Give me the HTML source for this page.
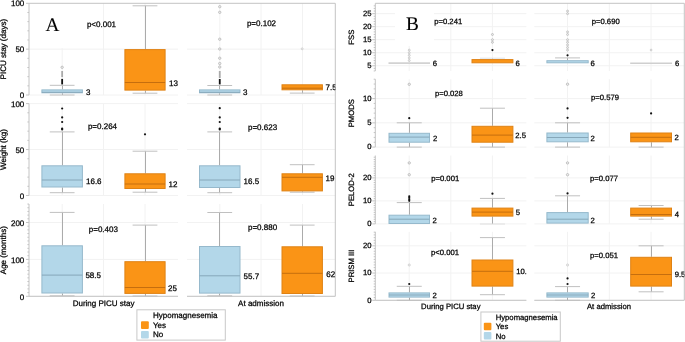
<!DOCTYPE html>
<html><head><meta charset="utf-8"><style>
html,body{margin:0;padding:0;background:#fff;}
svg{display:block;font-family:"Liberation Sans",sans-serif;will-change:transform;text-rendering:geometricPrecision;filter:blur(0.3px);}
text{fill:#000;stroke:#000;stroke-width:0.25px;}
</style></head><body>
<svg width="685" height="342" viewBox="0 0 685 342">
<rect width="685" height="342" fill="#fff"/>
<g id="A">
<line x1="29.00" y1="49.15" x2="178.00" y2="49.15" stroke="#f2f2f2" stroke-width="1"/>
<line x1="187.00" y1="49.15" x2="335.30" y2="49.15" stroke="#f2f2f2" stroke-width="1"/>
<line x1="29.00" y1="95.00" x2="178.00" y2="95.00" stroke="#f2f2f2" stroke-width="1"/>
<line x1="187.00" y1="95.00" x2="335.30" y2="95.00" stroke="#f2f2f2" stroke-width="1"/>
<line x1="62.20" y1="3.30" x2="62.20" y2="95.00" stroke="#f2f2f2" stroke-width="1"/>
<line x1="103.50" y1="3.30" x2="103.50" y2="95.00" stroke="#f2f2f2" stroke-width="1"/>
<line x1="145.00" y1="3.30" x2="145.00" y2="95.00" stroke="#f2f2f2" stroke-width="1"/>
<line x1="219.80" y1="3.30" x2="219.80" y2="95.00" stroke="#f2f2f2" stroke-width="1"/>
<line x1="261.00" y1="3.30" x2="261.00" y2="95.00" stroke="#f2f2f2" stroke-width="1"/>
<line x1="302.50" y1="3.30" x2="302.50" y2="95.00" stroke="#f2f2f2" stroke-width="1"/>
<line x1="29.00" y1="103.60" x2="178.00" y2="103.60" stroke="#f2f2f2" stroke-width="1"/>
<line x1="187.00" y1="103.60" x2="335.30" y2="103.60" stroke="#f2f2f2" stroke-width="1"/>
<line x1="29.00" y1="149.55" x2="178.00" y2="149.55" stroke="#f2f2f2" stroke-width="1"/>
<line x1="187.00" y1="149.55" x2="335.30" y2="149.55" stroke="#f2f2f2" stroke-width="1"/>
<line x1="29.00" y1="195.50" x2="178.00" y2="195.50" stroke="#f2f2f2" stroke-width="1"/>
<line x1="187.00" y1="195.50" x2="335.30" y2="195.50" stroke="#f2f2f2" stroke-width="1"/>
<line x1="62.20" y1="103.60" x2="62.20" y2="195.50" stroke="#f2f2f2" stroke-width="1"/>
<line x1="103.50" y1="103.60" x2="103.50" y2="195.50" stroke="#f2f2f2" stroke-width="1"/>
<line x1="145.00" y1="103.60" x2="145.00" y2="195.50" stroke="#f2f2f2" stroke-width="1"/>
<line x1="219.80" y1="103.60" x2="219.80" y2="195.50" stroke="#f2f2f2" stroke-width="1"/>
<line x1="261.00" y1="103.60" x2="261.00" y2="195.50" stroke="#f2f2f2" stroke-width="1"/>
<line x1="302.50" y1="103.60" x2="302.50" y2="195.50" stroke="#f2f2f2" stroke-width="1"/>
<line x1="29.00" y1="222.50" x2="178.00" y2="222.50" stroke="#f2f2f2" stroke-width="1"/>
<line x1="187.00" y1="222.50" x2="335.30" y2="222.50" stroke="#f2f2f2" stroke-width="1"/>
<line x1="29.00" y1="259.40" x2="178.00" y2="259.40" stroke="#f2f2f2" stroke-width="1"/>
<line x1="187.00" y1="259.40" x2="335.30" y2="259.40" stroke="#f2f2f2" stroke-width="1"/>
<line x1="29.00" y1="296.30" x2="178.00" y2="296.30" stroke="#f2f2f2" stroke-width="1"/>
<line x1="187.00" y1="296.30" x2="335.30" y2="296.30" stroke="#f2f2f2" stroke-width="1"/>
<line x1="62.20" y1="204.00" x2="62.20" y2="296.30" stroke="#f2f2f2" stroke-width="1"/>
<line x1="103.50" y1="204.00" x2="103.50" y2="296.30" stroke="#f2f2f2" stroke-width="1"/>
<line x1="145.00" y1="204.00" x2="145.00" y2="296.30" stroke="#f2f2f2" stroke-width="1"/>
<line x1="219.80" y1="204.00" x2="219.80" y2="296.30" stroke="#f2f2f2" stroke-width="1"/>
<line x1="261.00" y1="204.00" x2="261.00" y2="296.30" stroke="#f2f2f2" stroke-width="1"/>
<line x1="302.50" y1="204.00" x2="302.50" y2="296.30" stroke="#f2f2f2" stroke-width="1"/>
<line x1="29.00" y1="3.30" x2="29.00" y2="95.00" stroke="#c4c4c4" stroke-width="1"/>
<line x1="26.00" y1="95.00" x2="29.00" y2="95.00" stroke="#c4c4c4" stroke-width="1"/>
<line x1="27.40" y1="85.83" x2="29.00" y2="85.83" stroke="#c4c4c4" stroke-width="1"/>
<line x1="27.40" y1="76.66" x2="29.00" y2="76.66" stroke="#c4c4c4" stroke-width="1"/>
<line x1="27.40" y1="67.49" x2="29.00" y2="67.49" stroke="#c4c4c4" stroke-width="1"/>
<line x1="27.40" y1="58.32" x2="29.00" y2="58.32" stroke="#c4c4c4" stroke-width="1"/>
<line x1="26.00" y1="49.15" x2="29.00" y2="49.15" stroke="#c4c4c4" stroke-width="1"/>
<line x1="27.40" y1="39.98" x2="29.00" y2="39.98" stroke="#c4c4c4" stroke-width="1"/>
<line x1="27.40" y1="30.81" x2="29.00" y2="30.81" stroke="#c4c4c4" stroke-width="1"/>
<line x1="27.40" y1="21.64" x2="29.00" y2="21.64" stroke="#c4c4c4" stroke-width="1"/>
<line x1="27.40" y1="12.47" x2="29.00" y2="12.47" stroke="#c4c4c4" stroke-width="1"/>
<line x1="26.00" y1="3.30" x2="29.00" y2="3.30" stroke="#c4c4c4" stroke-width="1"/>
<text x="24.30" y="5.80" font-size="8" text-anchor="end" >100</text>
<text x="24.30" y="52.35" font-size="8" text-anchor="end" >50</text>
<text x="24.30" y="98.20" font-size="8" text-anchor="end" >0</text>
<text x="6.00" y="49.15" font-size="8" text-anchor="middle" transform="rotate(-90 6.0 49.15)">PICU stay (days)</text>
<line x1="29.00" y1="103.60" x2="29.00" y2="195.50" stroke="#c4c4c4" stroke-width="1"/>
<line x1="26.00" y1="195.50" x2="29.00" y2="195.50" stroke="#c4c4c4" stroke-width="1"/>
<line x1="27.40" y1="186.31" x2="29.00" y2="186.31" stroke="#c4c4c4" stroke-width="1"/>
<line x1="27.40" y1="177.12" x2="29.00" y2="177.12" stroke="#c4c4c4" stroke-width="1"/>
<line x1="27.40" y1="167.93" x2="29.00" y2="167.93" stroke="#c4c4c4" stroke-width="1"/>
<line x1="27.40" y1="158.74" x2="29.00" y2="158.74" stroke="#c4c4c4" stroke-width="1"/>
<line x1="26.00" y1="149.55" x2="29.00" y2="149.55" stroke="#c4c4c4" stroke-width="1"/>
<line x1="27.40" y1="140.36" x2="29.00" y2="140.36" stroke="#c4c4c4" stroke-width="1"/>
<line x1="27.40" y1="131.17" x2="29.00" y2="131.17" stroke="#c4c4c4" stroke-width="1"/>
<line x1="27.40" y1="121.98" x2="29.00" y2="121.98" stroke="#c4c4c4" stroke-width="1"/>
<line x1="27.40" y1="112.79" x2="29.00" y2="112.79" stroke="#c4c4c4" stroke-width="1"/>
<line x1="26.00" y1="103.60" x2="29.00" y2="103.60" stroke="#c4c4c4" stroke-width="1"/>
<text x="24.30" y="106.80" font-size="8" text-anchor="end" >100</text>
<text x="24.30" y="152.75" font-size="8" text-anchor="end" >50</text>
<text x="24.30" y="198.70" font-size="8" text-anchor="end" >0</text>
<text x="6.00" y="149.55" font-size="8" text-anchor="middle" transform="rotate(-90 6.0 149.55)">Weight (kg)</text>
<line x1="29.00" y1="204.00" x2="29.00" y2="296.30" stroke="#c4c4c4" stroke-width="1"/>
<line x1="26.00" y1="296.30" x2="29.00" y2="296.30" stroke="#c4c4c4" stroke-width="1"/>
<line x1="27.40" y1="292.61" x2="29.00" y2="292.61" stroke="#c4c4c4" stroke-width="1"/>
<line x1="27.40" y1="288.92" x2="29.00" y2="288.92" stroke="#c4c4c4" stroke-width="1"/>
<line x1="27.40" y1="285.23" x2="29.00" y2="285.23" stroke="#c4c4c4" stroke-width="1"/>
<line x1="27.40" y1="281.54" x2="29.00" y2="281.54" stroke="#c4c4c4" stroke-width="1"/>
<line x1="27.40" y1="277.85" x2="29.00" y2="277.85" stroke="#c4c4c4" stroke-width="1"/>
<line x1="27.40" y1="274.16" x2="29.00" y2="274.16" stroke="#c4c4c4" stroke-width="1"/>
<line x1="27.40" y1="270.47" x2="29.00" y2="270.47" stroke="#c4c4c4" stroke-width="1"/>
<line x1="27.40" y1="266.78" x2="29.00" y2="266.78" stroke="#c4c4c4" stroke-width="1"/>
<line x1="27.40" y1="263.09" x2="29.00" y2="263.09" stroke="#c4c4c4" stroke-width="1"/>
<line x1="26.00" y1="259.40" x2="29.00" y2="259.40" stroke="#c4c4c4" stroke-width="1"/>
<line x1="27.40" y1="255.71" x2="29.00" y2="255.71" stroke="#c4c4c4" stroke-width="1"/>
<line x1="27.40" y1="252.02" x2="29.00" y2="252.02" stroke="#c4c4c4" stroke-width="1"/>
<line x1="27.40" y1="248.33" x2="29.00" y2="248.33" stroke="#c4c4c4" stroke-width="1"/>
<line x1="27.40" y1="244.64" x2="29.00" y2="244.64" stroke="#c4c4c4" stroke-width="1"/>
<line x1="27.40" y1="240.95" x2="29.00" y2="240.95" stroke="#c4c4c4" stroke-width="1"/>
<line x1="27.40" y1="237.26" x2="29.00" y2="237.26" stroke="#c4c4c4" stroke-width="1"/>
<line x1="27.40" y1="233.57" x2="29.00" y2="233.57" stroke="#c4c4c4" stroke-width="1"/>
<line x1="27.40" y1="229.88" x2="29.00" y2="229.88" stroke="#c4c4c4" stroke-width="1"/>
<line x1="27.40" y1="226.19" x2="29.00" y2="226.19" stroke="#c4c4c4" stroke-width="1"/>
<line x1="26.00" y1="222.50" x2="29.00" y2="222.50" stroke="#c4c4c4" stroke-width="1"/>
<line x1="27.40" y1="218.81" x2="29.00" y2="218.81" stroke="#c4c4c4" stroke-width="1"/>
<line x1="27.40" y1="215.12" x2="29.00" y2="215.12" stroke="#c4c4c4" stroke-width="1"/>
<line x1="27.40" y1="211.43" x2="29.00" y2="211.43" stroke="#c4c4c4" stroke-width="1"/>
<line x1="27.40" y1="207.74" x2="29.00" y2="207.74" stroke="#c4c4c4" stroke-width="1"/>
<line x1="27.40" y1="204.05" x2="29.00" y2="204.05" stroke="#c4c4c4" stroke-width="1"/>
<text x="24.30" y="225.70" font-size="8" text-anchor="end" >200</text>
<text x="24.30" y="262.60" font-size="8" text-anchor="end" >100</text>
<text x="24.30" y="299.50" font-size="8" text-anchor="end" >0</text>
<text x="6.00" y="250.15" font-size="8" text-anchor="middle" transform="rotate(-90 6.0 250.15)">Age (months)</text>
<line x1="29.00" y1="3.30" x2="335.30" y2="3.30" stroke="#c4c4c4" stroke-width="1"/>
<line x1="335.30" y1="3.30" x2="335.30" y2="296.30" stroke="#c4c4c4" stroke-width="1"/>
<line x1="29.00" y1="296.30" x2="178.00" y2="296.30" stroke="#c4c4c4" stroke-width="1"/>
<line x1="187.00" y1="296.30" x2="335.30" y2="296.30" stroke="#c4c4c4" stroke-width="1"/>
</g>
<defs><clipPath id="cA1"><rect x="29" y="0" width="149" height="300"/></clipPath><clipPath id="cA2"><rect x="187" y="0" width="148.3" height="300"/></clipPath><clipPath id="cB1"><rect x="375" y="0" width="151.4" height="305"/></clipPath><clipPath id="cB2"><rect x="534" y="0" width="150.3" height="305"/></clipPath></defs>
<line x1="62.50" y1="89.40" x2="62.50" y2="85.30" stroke="#ababab" stroke-width="1"/>
<line x1="49.75" y1="85.30" x2="74.55" y2="85.30" stroke="#c0c0c0" stroke-width="1"/>
<line x1="62.50" y1="93.30" x2="62.50" y2="95.00" stroke="#ababab" stroke-width="1"/>
<line x1="49.75" y1="95.00" x2="74.55" y2="95.00" stroke="#c0c0c0" stroke-width="1"/>
<rect x="61.25" y="78.9" width="1.8" height="5.5" fill="#111"/>
<rect x="61.25" y="71" width="1.8" height="6.1" fill="#aaa"/>
<circle cx="62.15" cy="67.30" r="1.2" fill="#ececec" stroke="#b0b0b0" stroke-width="0.7"/>
<rect x="41.90" y="89.90" width="40.50" height="2.90" fill="#b3d7e9" stroke="#96b9cc" stroke-width="1"/>
<line x1="41.90" y1="92.30" x2="82.40" y2="92.30" stroke="#86a7b9" stroke-width="1"/>
<line x1="145.50" y1="49.10" x2="145.50" y2="5.80" stroke="#ababab" stroke-width="1"/>
<line x1="132.60" y1="5.80" x2="157.40" y2="5.80" stroke="#c0c0c0" stroke-width="1"/>
<line x1="145.50" y1="90.60" x2="145.50" y2="93.20" stroke="#ababab" stroke-width="1"/>
<line x1="132.60" y1="93.20" x2="157.40" y2="93.20" stroke="#c0c0c0" stroke-width="1"/>
<rect x="124.90" y="49.60" width="40.20" height="40.50" fill="#fa9416" stroke="#df8214" stroke-width="1"/>
<line x1="124.90" y1="82.50" x2="165.10" y2="82.50" stroke="#c56e0e" stroke-width="1"/>
<line x1="219.50" y1="89.40" x2="219.50" y2="85.50" stroke="#ababab" stroke-width="1"/>
<line x1="207.35" y1="85.50" x2="232.15" y2="85.50" stroke="#c0c0c0" stroke-width="1"/>
<line x1="219.50" y1="93.30" x2="219.50" y2="95.00" stroke="#ababab" stroke-width="1"/>
<line x1="207.35" y1="95.00" x2="232.15" y2="95.00" stroke="#c0c0c0" stroke-width="1"/>
<rect x="218.85" y="79" width="1.8" height="5.4" fill="#111"/>
<rect x="218.85" y="71" width="1.8" height="7" fill="#aaa"/>
<circle cx="219.75" cy="6.70" r="1.2" fill="#ececec" stroke="#b0b0b0" stroke-width="0.7"/>
<circle cx="219.75" cy="12.30" r="1.2" fill="#ececec" stroke="#b0b0b0" stroke-width="0.7"/>
<circle cx="219.75" cy="39.20" r="1.2" fill="#ececec" stroke="#b0b0b0" stroke-width="0.7"/>
<circle cx="219.75" cy="49.00" r="1.2" fill="#ececec" stroke="#b0b0b0" stroke-width="0.7"/>
<circle cx="219.75" cy="58.20" r="1.2" fill="#ececec" stroke="#b0b0b0" stroke-width="0.7"/>
<circle cx="219.75" cy="63.50" r="1.2" fill="#ececec" stroke="#b0b0b0" stroke-width="0.7"/>
<circle cx="219.75" cy="67.00" r="1.2" fill="#ececec" stroke="#b0b0b0" stroke-width="0.7"/>
<rect x="199.50" y="89.90" width="40.50" height="2.90" fill="#b3d7e9" stroke="#96b9cc" stroke-width="1"/>
<line x1="199.50" y1="92.30" x2="240.00" y2="92.30" stroke="#86a7b9" stroke-width="1"/>
<line x1="302.50" y1="90.30" x2="302.50" y2="93.10" stroke="#ababab" stroke-width="1"/>
<line x1="289.80" y1="93.10" x2="314.60" y2="93.10" stroke="#c0c0c0" stroke-width="1"/>
<circle cx="302.20" cy="48.80" r="1.0" fill="#ececec" stroke="#c8c8c8" stroke-width="0.7"/>
<rect x="282.00" y="84.80" width="40.40" height="5.00" fill="#fa9416" stroke="#df8214" stroke-width="1"/>
<line x1="282.00" y1="88.20" x2="322.40" y2="88.20" stroke="#c56e0e" stroke-width="1"/>
<line x1="62.50" y1="165.30" x2="62.50" y2="131.90" stroke="#ababab" stroke-width="1"/>
<line x1="49.75" y1="131.90" x2="74.55" y2="131.90" stroke="#c0c0c0" stroke-width="1"/>
<line x1="62.50" y1="187.50" x2="62.50" y2="192.70" stroke="#ababab" stroke-width="1"/>
<line x1="49.75" y1="192.70" x2="74.55" y2="192.70" stroke="#c0c0c0" stroke-width="1"/>
<circle cx="62.15" cy="108.50" r="1.1" fill="#111"/>
<circle cx="62.15" cy="117.40" r="1.1" fill="#111"/>
<circle cx="62.15" cy="122.00" r="1.1" fill="#111"/>
<circle cx="62.15" cy="128.60" r="1.1" fill="#111"/>
<circle cx="62.15" cy="129.40" r="1.1" fill="#111"/>
<rect x="41.90" y="165.80" width="40.50" height="21.20" fill="#b3d7e9" stroke="#96b9cc" stroke-width="1"/>
<line x1="41.90" y1="180.00" x2="82.40" y2="180.00" stroke="#86a7b9" stroke-width="1"/>
<line x1="145.50" y1="173.30" x2="145.50" y2="151.20" stroke="#ababab" stroke-width="1"/>
<line x1="132.60" y1="151.20" x2="157.40" y2="151.20" stroke="#c0c0c0" stroke-width="1"/>
<line x1="145.50" y1="189.00" x2="145.50" y2="192.20" stroke="#ababab" stroke-width="1"/>
<line x1="132.60" y1="192.20" x2="157.40" y2="192.20" stroke="#c0c0c0" stroke-width="1"/>
<circle cx="145.00" cy="134.30" r="1.1" fill="#111"/>
<rect x="124.90" y="173.80" width="40.20" height="14.70" fill="#fa9416" stroke="#df8214" stroke-width="1"/>
<line x1="124.90" y1="184.00" x2="165.10" y2="184.00" stroke="#c56e0e" stroke-width="1"/>
<line x1="219.50" y1="165.30" x2="219.50" y2="131.90" stroke="#ababab" stroke-width="1"/>
<line x1="207.35" y1="131.90" x2="232.15" y2="131.90" stroke="#c0c0c0" stroke-width="1"/>
<line x1="219.50" y1="188.00" x2="219.50" y2="192.70" stroke="#ababab" stroke-width="1"/>
<line x1="207.35" y1="192.70" x2="232.15" y2="192.70" stroke="#c0c0c0" stroke-width="1"/>
<circle cx="219.75" cy="108.20" r="1.1" fill="#111"/>
<circle cx="219.75" cy="117.40" r="1.1" fill="#111"/>
<circle cx="219.75" cy="122.00" r="1.1" fill="#111"/>
<circle cx="219.75" cy="128.60" r="1.1" fill="#111"/>
<circle cx="219.75" cy="129.40" r="1.1" fill="#111"/>
<rect x="199.50" y="165.80" width="40.50" height="21.70" fill="#b3d7e9" stroke="#96b9cc" stroke-width="1"/>
<line x1="199.50" y1="180.00" x2="240.00" y2="180.00" stroke="#86a7b9" stroke-width="1"/>
<line x1="302.50" y1="173.30" x2="302.50" y2="164.70" stroke="#ababab" stroke-width="1"/>
<line x1="289.80" y1="164.70" x2="314.60" y2="164.70" stroke="#c0c0c0" stroke-width="1"/>
<line x1="302.50" y1="191.40" x2="302.50" y2="192.20" stroke="#ababab" stroke-width="1"/>
<line x1="289.80" y1="192.20" x2="314.60" y2="192.20" stroke="#c0c0c0" stroke-width="1"/>
<rect x="282.00" y="173.80" width="40.40" height="17.10" fill="#fa9416" stroke="#df8214" stroke-width="1"/>
<line x1="282.00" y1="177.30" x2="322.40" y2="177.30" stroke="#c56e0e" stroke-width="1"/>
<line x1="62.50" y1="245.30" x2="62.50" y2="212.40" stroke="#ababab" stroke-width="1"/>
<line x1="49.75" y1="212.40" x2="74.55" y2="212.40" stroke="#c0c0c0" stroke-width="1"/>
<line x1="62.50" y1="293.50" x2="62.50" y2="295.80" stroke="#ababab" stroke-width="1"/>
<line x1="49.75" y1="295.80" x2="74.55" y2="295.80" stroke="#c0c0c0" stroke-width="1"/>
<rect x="41.90" y="245.80" width="40.50" height="47.20" fill="#b3d7e9" stroke="#96b9cc" stroke-width="1"/>
<line x1="41.90" y1="275.10" x2="82.40" y2="275.10" stroke="#86a7b9" stroke-width="1"/>
<line x1="145.50" y1="261.20" x2="145.50" y2="225.10" stroke="#ababab" stroke-width="1"/>
<line x1="132.60" y1="225.10" x2="157.40" y2="225.10" stroke="#c0c0c0" stroke-width="1"/>
<line x1="145.50" y1="293.90" x2="145.50" y2="296.00" stroke="#ababab" stroke-width="1"/>
<line x1="132.60" y1="296.00" x2="157.40" y2="296.00" stroke="#c0c0c0" stroke-width="1"/>
<rect x="124.90" y="261.70" width="40.20" height="31.70" fill="#fa9416" stroke="#df8214" stroke-width="1"/>
<line x1="124.90" y1="287.50" x2="165.10" y2="287.50" stroke="#c56e0e" stroke-width="1"/>
<line x1="219.50" y1="246.00" x2="219.50" y2="212.50" stroke="#ababab" stroke-width="1"/>
<line x1="207.35" y1="212.50" x2="232.15" y2="212.50" stroke="#c0c0c0" stroke-width="1"/>
<line x1="219.50" y1="293.60" x2="219.50" y2="295.80" stroke="#ababab" stroke-width="1"/>
<line x1="207.35" y1="295.80" x2="232.15" y2="295.80" stroke="#c0c0c0" stroke-width="1"/>
<rect x="199.50" y="246.50" width="40.50" height="46.60" fill="#b3d7e9" stroke="#96b9cc" stroke-width="1"/>
<line x1="199.50" y1="275.80" x2="240.00" y2="275.80" stroke="#86a7b9" stroke-width="1"/>
<line x1="302.50" y1="246.30" x2="302.50" y2="225.10" stroke="#ababab" stroke-width="1"/>
<line x1="289.80" y1="225.10" x2="314.60" y2="225.10" stroke="#c0c0c0" stroke-width="1"/>
<line x1="302.50" y1="294.00" x2="302.50" y2="296.00" stroke="#ababab" stroke-width="1"/>
<line x1="289.80" y1="296.00" x2="314.60" y2="296.00" stroke="#c0c0c0" stroke-width="1"/>
<rect x="282.00" y="246.80" width="40.40" height="46.70" fill="#fa9416" stroke="#df8214" stroke-width="1"/>
<line x1="282.00" y1="273.30" x2="322.40" y2="273.30" stroke="#c56e0e" stroke-width="1"/>
<g clip-path="url(#cA1)">
<text x="85.90" y="94.90" font-size="8" text-anchor="start" >3</text>
<text x="169.00" y="85.90" font-size="8" text-anchor="start" >13</text>
<text x="86.00" y="184.20" font-size="8" text-anchor="start" >16.6</text>
<text x="168.60" y="187.30" font-size="8" text-anchor="start" >12</text>
<text x="85.40" y="278.40" font-size="8" text-anchor="start" >58.5</text>
<text x="168.10" y="290.60" font-size="8" text-anchor="start" >25</text>
</g><g clip-path="url(#cA2)">
<text x="242.90" y="94.90" font-size="8" text-anchor="start" >3</text>
<text x="325.60" y="90.40" font-size="8" text-anchor="start" >7.5</text>
<text x="243.60" y="184.20" font-size="8" text-anchor="start" >16.5</text>
<text x="325.60" y="180.90" font-size="8" text-anchor="start" >19</text>
<text x="243.60" y="279.30" font-size="8" text-anchor="start" >55.7</text>
<text x="326.20" y="276.50" font-size="8" text-anchor="start" >62</text>
</g>
<text x="86.90" y="26.70" font-size="8" text-anchor="start" >p&lt;0.001</text>
<text x="246.90" y="25.80" font-size="8" text-anchor="start" >p=0.102</text>
<text x="87.90" y="129.30" font-size="8" text-anchor="start" >p=0.264</text>
<text x="248.00" y="130.40" font-size="8" text-anchor="start" >p=0.623</text>
<text x="88.80" y="231.70" font-size="8" text-anchor="start" >p=0.403</text>
<text x="248.00" y="230.00" font-size="8" text-anchor="start" >p=0.880</text>
<rect x="34" y="4" width="36" height="44" fill="#fff"/>
<text x="45.60" y="30.90" font-size="19.3" text-anchor="start" font-family="Liberation Serif, serif" style="stroke-width:0.1px">A</text>
<text x="103.60" y="305.80" font-size="8" text-anchor="middle" >During PICU stay</text>
<text x="261.00" y="305.80" font-size="8" text-anchor="middle" >At admission</text>
<rect x="136.9" y="309.8" width="88.4" height="30.3" fill="#fff" stroke="#c8c8c8" stroke-width="1"/>
<text x="153.00" y="318.20" font-size="8" text-anchor="start" >Hypomagnesemia</text>
<rect x="141.0" y="321.3" width="7.8" height="7.6" rx="1" fill="#fa9416"/>
<text x="153.00" y="327.50" font-size="8" text-anchor="start" >Yes</text>
<rect x="141.0" y="331.0" width="7.8" height="7.6" rx="1" fill="#b3d7e9"/>
<text x="153.00" y="336.90" font-size="8" text-anchor="start" >No</text>
<line x1="375.30" y1="13.65" x2="526.40" y2="13.65" stroke="#f2f2f2" stroke-width="1"/>
<line x1="534.30" y1="13.65" x2="684.30" y2="13.65" stroke="#f2f2f2" stroke-width="1"/>
<line x1="375.30" y1="26.67" x2="526.40" y2="26.67" stroke="#f2f2f2" stroke-width="1"/>
<line x1="534.30" y1="26.67" x2="684.30" y2="26.67" stroke="#f2f2f2" stroke-width="1"/>
<line x1="375.30" y1="39.70" x2="526.40" y2="39.70" stroke="#f2f2f2" stroke-width="1"/>
<line x1="534.30" y1="39.70" x2="684.30" y2="39.70" stroke="#f2f2f2" stroke-width="1"/>
<line x1="375.30" y1="52.73" x2="526.40" y2="52.73" stroke="#f2f2f2" stroke-width="1"/>
<line x1="534.30" y1="52.73" x2="684.30" y2="52.73" stroke="#f2f2f2" stroke-width="1"/>
<line x1="375.30" y1="65.75" x2="526.40" y2="65.75" stroke="#f2f2f2" stroke-width="1"/>
<line x1="534.30" y1="65.75" x2="684.30" y2="65.75" stroke="#f2f2f2" stroke-width="1"/>
<line x1="409.20" y1="3.30" x2="409.20" y2="71.00" stroke="#f2f2f2" stroke-width="1"/>
<line x1="450.80" y1="3.30" x2="450.80" y2="71.00" stroke="#f2f2f2" stroke-width="1"/>
<line x1="492.40" y1="3.30" x2="492.40" y2="71.00" stroke="#f2f2f2" stroke-width="1"/>
<line x1="567.50" y1="3.30" x2="567.50" y2="71.00" stroke="#f2f2f2" stroke-width="1"/>
<line x1="609.30" y1="3.30" x2="609.30" y2="71.00" stroke="#f2f2f2" stroke-width="1"/>
<line x1="651.00" y1="3.30" x2="651.00" y2="71.00" stroke="#f2f2f2" stroke-width="1"/>
<line x1="375.30" y1="98.60" x2="526.40" y2="98.60" stroke="#f2f2f2" stroke-width="1"/>
<line x1="534.30" y1="98.60" x2="684.30" y2="98.60" stroke="#f2f2f2" stroke-width="1"/>
<line x1="375.30" y1="122.85" x2="526.40" y2="122.85" stroke="#f2f2f2" stroke-width="1"/>
<line x1="534.30" y1="122.85" x2="684.30" y2="122.85" stroke="#f2f2f2" stroke-width="1"/>
<line x1="375.30" y1="147.10" x2="526.40" y2="147.10" stroke="#f2f2f2" stroke-width="1"/>
<line x1="534.30" y1="147.10" x2="684.30" y2="147.10" stroke="#f2f2f2" stroke-width="1"/>
<line x1="409.20" y1="79.20" x2="409.20" y2="147.10" stroke="#f2f2f2" stroke-width="1"/>
<line x1="450.80" y1="79.20" x2="450.80" y2="147.10" stroke="#f2f2f2" stroke-width="1"/>
<line x1="492.40" y1="79.20" x2="492.40" y2="147.10" stroke="#f2f2f2" stroke-width="1"/>
<line x1="567.50" y1="79.20" x2="567.50" y2="147.10" stroke="#f2f2f2" stroke-width="1"/>
<line x1="609.30" y1="79.20" x2="609.30" y2="147.10" stroke="#f2f2f2" stroke-width="1"/>
<line x1="651.00" y1="79.20" x2="651.00" y2="147.10" stroke="#f2f2f2" stroke-width="1"/>
<line x1="375.30" y1="177.90" x2="526.40" y2="177.90" stroke="#f2f2f2" stroke-width="1"/>
<line x1="534.30" y1="177.90" x2="684.30" y2="177.90" stroke="#f2f2f2" stroke-width="1"/>
<line x1="375.30" y1="200.90" x2="526.40" y2="200.90" stroke="#f2f2f2" stroke-width="1"/>
<line x1="534.30" y1="200.90" x2="684.30" y2="200.90" stroke="#f2f2f2" stroke-width="1"/>
<line x1="375.30" y1="223.90" x2="526.40" y2="223.90" stroke="#f2f2f2" stroke-width="1"/>
<line x1="534.30" y1="223.90" x2="684.30" y2="223.90" stroke="#f2f2f2" stroke-width="1"/>
<line x1="409.20" y1="155.50" x2="409.20" y2="223.90" stroke="#f2f2f2" stroke-width="1"/>
<line x1="450.80" y1="155.50" x2="450.80" y2="223.90" stroke="#f2f2f2" stroke-width="1"/>
<line x1="492.40" y1="155.50" x2="492.40" y2="223.90" stroke="#f2f2f2" stroke-width="1"/>
<line x1="567.50" y1="155.50" x2="567.50" y2="223.90" stroke="#f2f2f2" stroke-width="1"/>
<line x1="609.30" y1="155.50" x2="609.30" y2="223.90" stroke="#f2f2f2" stroke-width="1"/>
<line x1="651.00" y1="155.50" x2="651.00" y2="223.90" stroke="#f2f2f2" stroke-width="1"/>
<line x1="375.30" y1="245.80" x2="526.40" y2="245.80" stroke="#f2f2f2" stroke-width="1"/>
<line x1="534.30" y1="245.80" x2="684.30" y2="245.80" stroke="#f2f2f2" stroke-width="1"/>
<line x1="375.30" y1="273.05" x2="526.40" y2="273.05" stroke="#f2f2f2" stroke-width="1"/>
<line x1="534.30" y1="273.05" x2="684.30" y2="273.05" stroke="#f2f2f2" stroke-width="1"/>
<line x1="375.30" y1="300.30" x2="526.40" y2="300.30" stroke="#f2f2f2" stroke-width="1"/>
<line x1="534.30" y1="300.30" x2="684.30" y2="300.30" stroke="#f2f2f2" stroke-width="1"/>
<line x1="409.20" y1="231.80" x2="409.20" y2="300.30" stroke="#f2f2f2" stroke-width="1"/>
<line x1="450.80" y1="231.80" x2="450.80" y2="300.30" stroke="#f2f2f2" stroke-width="1"/>
<line x1="492.40" y1="231.80" x2="492.40" y2="300.30" stroke="#f2f2f2" stroke-width="1"/>
<line x1="567.50" y1="231.80" x2="567.50" y2="300.30" stroke="#f2f2f2" stroke-width="1"/>
<line x1="609.30" y1="231.80" x2="609.30" y2="300.30" stroke="#f2f2f2" stroke-width="1"/>
<line x1="651.00" y1="231.80" x2="651.00" y2="300.30" stroke="#f2f2f2" stroke-width="1"/>
<line x1="375.30" y1="3.30" x2="375.30" y2="71.00" stroke="#c4c4c4" stroke-width="1"/>
<line x1="373.70" y1="70.96" x2="375.30" y2="70.96" stroke="#c4c4c4" stroke-width="1"/>
<line x1="373.70" y1="68.36" x2="375.30" y2="68.36" stroke="#c4c4c4" stroke-width="1"/>
<line x1="372.30" y1="65.75" x2="375.30" y2="65.75" stroke="#c4c4c4" stroke-width="1"/>
<line x1="373.70" y1="63.15" x2="375.30" y2="63.15" stroke="#c4c4c4" stroke-width="1"/>
<line x1="373.70" y1="60.54" x2="375.30" y2="60.54" stroke="#c4c4c4" stroke-width="1"/>
<line x1="373.70" y1="57.94" x2="375.30" y2="57.94" stroke="#c4c4c4" stroke-width="1"/>
<line x1="373.70" y1="55.33" x2="375.30" y2="55.33" stroke="#c4c4c4" stroke-width="1"/>
<line x1="372.30" y1="52.73" x2="375.30" y2="52.73" stroke="#c4c4c4" stroke-width="1"/>
<line x1="373.70" y1="50.12" x2="375.30" y2="50.12" stroke="#c4c4c4" stroke-width="1"/>
<line x1="373.70" y1="47.52" x2="375.30" y2="47.52" stroke="#c4c4c4" stroke-width="1"/>
<line x1="373.70" y1="44.91" x2="375.30" y2="44.91" stroke="#c4c4c4" stroke-width="1"/>
<line x1="373.70" y1="42.30" x2="375.30" y2="42.30" stroke="#c4c4c4" stroke-width="1"/>
<line x1="372.30" y1="39.70" x2="375.30" y2="39.70" stroke="#c4c4c4" stroke-width="1"/>
<line x1="373.70" y1="37.09" x2="375.30" y2="37.09" stroke="#c4c4c4" stroke-width="1"/>
<line x1="373.70" y1="34.49" x2="375.30" y2="34.49" stroke="#c4c4c4" stroke-width="1"/>
<line x1="373.70" y1="31.88" x2="375.30" y2="31.88" stroke="#c4c4c4" stroke-width="1"/>
<line x1="373.70" y1="29.28" x2="375.30" y2="29.28" stroke="#c4c4c4" stroke-width="1"/>
<line x1="372.30" y1="26.67" x2="375.30" y2="26.67" stroke="#c4c4c4" stroke-width="1"/>
<line x1="373.70" y1="24.07" x2="375.30" y2="24.07" stroke="#c4c4c4" stroke-width="1"/>
<line x1="373.70" y1="21.47" x2="375.30" y2="21.47" stroke="#c4c4c4" stroke-width="1"/>
<line x1="373.70" y1="18.86" x2="375.30" y2="18.86" stroke="#c4c4c4" stroke-width="1"/>
<line x1="373.70" y1="16.26" x2="375.30" y2="16.26" stroke="#c4c4c4" stroke-width="1"/>
<line x1="372.30" y1="13.65" x2="375.30" y2="13.65" stroke="#c4c4c4" stroke-width="1"/>
<line x1="373.70" y1="11.05" x2="375.30" y2="11.05" stroke="#c4c4c4" stroke-width="1"/>
<line x1="373.70" y1="8.44" x2="375.30" y2="8.44" stroke="#c4c4c4" stroke-width="1"/>
<line x1="373.70" y1="5.84" x2="375.30" y2="5.84" stroke="#c4c4c4" stroke-width="1"/>
<text x="371.50" y="15.95" font-size="7.7" text-anchor="end" >25</text>
<text x="371.50" y="28.97" font-size="7.7" text-anchor="end" >20</text>
<text x="371.50" y="42.00" font-size="7.7" text-anchor="end" >15</text>
<text x="371.50" y="55.02" font-size="7.7" text-anchor="end" >10</text>
<text x="371.50" y="68.05" font-size="7.7" text-anchor="end" >5</text>
<text x="354.20" y="37.15" font-size="7.7" text-anchor="middle" transform="rotate(-90 354.2 37.15)">FSS</text>
<line x1="375.30" y1="79.20" x2="375.30" y2="147.10" stroke="#c4c4c4" stroke-width="1"/>
<line x1="372.30" y1="147.10" x2="375.30" y2="147.10" stroke="#c4c4c4" stroke-width="1"/>
<line x1="373.70" y1="142.25" x2="375.30" y2="142.25" stroke="#c4c4c4" stroke-width="1"/>
<line x1="373.70" y1="137.40" x2="375.30" y2="137.40" stroke="#c4c4c4" stroke-width="1"/>
<line x1="373.70" y1="132.55" x2="375.30" y2="132.55" stroke="#c4c4c4" stroke-width="1"/>
<line x1="373.70" y1="127.70" x2="375.30" y2="127.70" stroke="#c4c4c4" stroke-width="1"/>
<line x1="372.30" y1="122.85" x2="375.30" y2="122.85" stroke="#c4c4c4" stroke-width="1"/>
<line x1="373.70" y1="118.00" x2="375.30" y2="118.00" stroke="#c4c4c4" stroke-width="1"/>
<line x1="373.70" y1="113.15" x2="375.30" y2="113.15" stroke="#c4c4c4" stroke-width="1"/>
<line x1="373.70" y1="108.30" x2="375.30" y2="108.30" stroke="#c4c4c4" stroke-width="1"/>
<line x1="373.70" y1="103.45" x2="375.30" y2="103.45" stroke="#c4c4c4" stroke-width="1"/>
<line x1="372.30" y1="98.60" x2="375.30" y2="98.60" stroke="#c4c4c4" stroke-width="1"/>
<line x1="373.70" y1="93.75" x2="375.30" y2="93.75" stroke="#c4c4c4" stroke-width="1"/>
<line x1="373.70" y1="88.90" x2="375.30" y2="88.90" stroke="#c4c4c4" stroke-width="1"/>
<line x1="373.70" y1="84.05" x2="375.30" y2="84.05" stroke="#c4c4c4" stroke-width="1"/>
<line x1="373.70" y1="79.20" x2="375.30" y2="79.20" stroke="#c4c4c4" stroke-width="1"/>
<text x="371.50" y="100.90" font-size="7.7" text-anchor="end" >10</text>
<text x="371.50" y="125.15" font-size="7.7" text-anchor="end" >5</text>
<text x="371.50" y="149.40" font-size="7.7" text-anchor="end" >0</text>
<text x="354.20" y="113.15" font-size="7.7" text-anchor="middle" transform="rotate(-90 354.2 113.15)">PMODS</text>
<line x1="375.30" y1="155.50" x2="375.30" y2="223.90" stroke="#c4c4c4" stroke-width="1"/>
<line x1="372.30" y1="223.90" x2="375.30" y2="223.90" stroke="#c4c4c4" stroke-width="1"/>
<line x1="373.70" y1="221.60" x2="375.30" y2="221.60" stroke="#c4c4c4" stroke-width="1"/>
<line x1="373.70" y1="219.30" x2="375.30" y2="219.30" stroke="#c4c4c4" stroke-width="1"/>
<line x1="373.70" y1="217.00" x2="375.30" y2="217.00" stroke="#c4c4c4" stroke-width="1"/>
<line x1="373.70" y1="214.70" x2="375.30" y2="214.70" stroke="#c4c4c4" stroke-width="1"/>
<line x1="373.70" y1="212.40" x2="375.30" y2="212.40" stroke="#c4c4c4" stroke-width="1"/>
<line x1="373.70" y1="210.10" x2="375.30" y2="210.10" stroke="#c4c4c4" stroke-width="1"/>
<line x1="373.70" y1="207.80" x2="375.30" y2="207.80" stroke="#c4c4c4" stroke-width="1"/>
<line x1="373.70" y1="205.50" x2="375.30" y2="205.50" stroke="#c4c4c4" stroke-width="1"/>
<line x1="373.70" y1="203.20" x2="375.30" y2="203.20" stroke="#c4c4c4" stroke-width="1"/>
<line x1="372.30" y1="200.90" x2="375.30" y2="200.90" stroke="#c4c4c4" stroke-width="1"/>
<line x1="373.70" y1="198.60" x2="375.30" y2="198.60" stroke="#c4c4c4" stroke-width="1"/>
<line x1="373.70" y1="196.30" x2="375.30" y2="196.30" stroke="#c4c4c4" stroke-width="1"/>
<line x1="373.70" y1="194.00" x2="375.30" y2="194.00" stroke="#c4c4c4" stroke-width="1"/>
<line x1="373.70" y1="191.70" x2="375.30" y2="191.70" stroke="#c4c4c4" stroke-width="1"/>
<line x1="373.70" y1="189.40" x2="375.30" y2="189.40" stroke="#c4c4c4" stroke-width="1"/>
<line x1="373.70" y1="187.10" x2="375.30" y2="187.10" stroke="#c4c4c4" stroke-width="1"/>
<line x1="373.70" y1="184.80" x2="375.30" y2="184.80" stroke="#c4c4c4" stroke-width="1"/>
<line x1="373.70" y1="182.50" x2="375.30" y2="182.50" stroke="#c4c4c4" stroke-width="1"/>
<line x1="373.70" y1="180.20" x2="375.30" y2="180.20" stroke="#c4c4c4" stroke-width="1"/>
<line x1="372.30" y1="177.90" x2="375.30" y2="177.90" stroke="#c4c4c4" stroke-width="1"/>
<line x1="373.70" y1="175.60" x2="375.30" y2="175.60" stroke="#c4c4c4" stroke-width="1"/>
<line x1="373.70" y1="173.30" x2="375.30" y2="173.30" stroke="#c4c4c4" stroke-width="1"/>
<line x1="373.70" y1="171.00" x2="375.30" y2="171.00" stroke="#c4c4c4" stroke-width="1"/>
<line x1="373.70" y1="168.70" x2="375.30" y2="168.70" stroke="#c4c4c4" stroke-width="1"/>
<line x1="373.70" y1="166.40" x2="375.30" y2="166.40" stroke="#c4c4c4" stroke-width="1"/>
<line x1="373.70" y1="164.10" x2="375.30" y2="164.10" stroke="#c4c4c4" stroke-width="1"/>
<line x1="373.70" y1="161.80" x2="375.30" y2="161.80" stroke="#c4c4c4" stroke-width="1"/>
<line x1="373.70" y1="159.50" x2="375.30" y2="159.50" stroke="#c4c4c4" stroke-width="1"/>
<line x1="373.70" y1="157.20" x2="375.30" y2="157.20" stroke="#c4c4c4" stroke-width="1"/>
<text x="371.50" y="180.20" font-size="7.7" text-anchor="end" >20</text>
<text x="371.50" y="203.20" font-size="7.7" text-anchor="end" >10</text>
<text x="371.50" y="226.20" font-size="7.7" text-anchor="end" >0</text>
<text x="354.20" y="189.70" font-size="7.7" text-anchor="middle" transform="rotate(-90 354.2 189.70)">PELOD-2</text>
<line x1="375.30" y1="231.80" x2="375.30" y2="300.30" stroke="#c4c4c4" stroke-width="1"/>
<line x1="372.30" y1="300.30" x2="375.30" y2="300.30" stroke="#c4c4c4" stroke-width="1"/>
<line x1="373.70" y1="297.57" x2="375.30" y2="297.57" stroke="#c4c4c4" stroke-width="1"/>
<line x1="373.70" y1="294.85" x2="375.30" y2="294.85" stroke="#c4c4c4" stroke-width="1"/>
<line x1="373.70" y1="292.12" x2="375.30" y2="292.12" stroke="#c4c4c4" stroke-width="1"/>
<line x1="373.70" y1="289.40" x2="375.30" y2="289.40" stroke="#c4c4c4" stroke-width="1"/>
<line x1="373.70" y1="286.68" x2="375.30" y2="286.68" stroke="#c4c4c4" stroke-width="1"/>
<line x1="373.70" y1="283.95" x2="375.30" y2="283.95" stroke="#c4c4c4" stroke-width="1"/>
<line x1="373.70" y1="281.23" x2="375.30" y2="281.23" stroke="#c4c4c4" stroke-width="1"/>
<line x1="373.70" y1="278.50" x2="375.30" y2="278.50" stroke="#c4c4c4" stroke-width="1"/>
<line x1="373.70" y1="275.78" x2="375.30" y2="275.78" stroke="#c4c4c4" stroke-width="1"/>
<line x1="372.30" y1="273.05" x2="375.30" y2="273.05" stroke="#c4c4c4" stroke-width="1"/>
<line x1="373.70" y1="270.32" x2="375.30" y2="270.32" stroke="#c4c4c4" stroke-width="1"/>
<line x1="373.70" y1="267.60" x2="375.30" y2="267.60" stroke="#c4c4c4" stroke-width="1"/>
<line x1="373.70" y1="264.88" x2="375.30" y2="264.88" stroke="#c4c4c4" stroke-width="1"/>
<line x1="373.70" y1="262.15" x2="375.30" y2="262.15" stroke="#c4c4c4" stroke-width="1"/>
<line x1="373.70" y1="259.43" x2="375.30" y2="259.43" stroke="#c4c4c4" stroke-width="1"/>
<line x1="373.70" y1="256.70" x2="375.30" y2="256.70" stroke="#c4c4c4" stroke-width="1"/>
<line x1="373.70" y1="253.98" x2="375.30" y2="253.98" stroke="#c4c4c4" stroke-width="1"/>
<line x1="373.70" y1="251.25" x2="375.30" y2="251.25" stroke="#c4c4c4" stroke-width="1"/>
<line x1="373.70" y1="248.53" x2="375.30" y2="248.53" stroke="#c4c4c4" stroke-width="1"/>
<line x1="372.30" y1="245.80" x2="375.30" y2="245.80" stroke="#c4c4c4" stroke-width="1"/>
<line x1="373.70" y1="243.08" x2="375.30" y2="243.08" stroke="#c4c4c4" stroke-width="1"/>
<line x1="373.70" y1="240.35" x2="375.30" y2="240.35" stroke="#c4c4c4" stroke-width="1"/>
<line x1="373.70" y1="237.62" x2="375.30" y2="237.62" stroke="#c4c4c4" stroke-width="1"/>
<line x1="373.70" y1="234.90" x2="375.30" y2="234.90" stroke="#c4c4c4" stroke-width="1"/>
<line x1="373.70" y1="232.18" x2="375.30" y2="232.18" stroke="#c4c4c4" stroke-width="1"/>
<text x="371.50" y="248.10" font-size="7.7" text-anchor="end" >20</text>
<text x="371.50" y="275.35" font-size="7.7" text-anchor="end" >10</text>
<text x="371.50" y="302.60" font-size="7.7" text-anchor="end" >0</text>
<text x="354.20" y="266.05" font-size="7.7" text-anchor="middle" transform="rotate(-90 354.2 266.05)">PRISM III</text>
<line x1="375.30" y1="3.30" x2="684.30" y2="3.30" stroke="#c4c4c4" stroke-width="1"/>
<line x1="684.30" y1="3.30" x2="684.30" y2="300.30" stroke="#c4c4c4" stroke-width="1"/>
<line x1="375.30" y1="300.30" x2="526.40" y2="300.30" stroke="#c4c4c4" stroke-width="1"/>
<line x1="534.30" y1="300.30" x2="684.30" y2="300.30" stroke="#c4c4c4" stroke-width="1"/>
<circle cx="409.25" cy="60.54" r="1.0" fill="#ececec" stroke="#c0c0c0" stroke-width="0.7"/>
<circle cx="409.25" cy="57.94" r="1.0" fill="#ececec" stroke="#c0c0c0" stroke-width="0.7"/>
<circle cx="409.25" cy="55.33" r="1.0" fill="#ececec" stroke="#c0c0c0" stroke-width="0.7"/>
<circle cx="409.25" cy="52.73" r="1.0" fill="#ececec" stroke="#c0c0c0" stroke-width="0.7"/>
<circle cx="409.25" cy="50.12" r="1.0" fill="#ececec" stroke="#c0c0c0" stroke-width="0.7"/>
<line x1="388.50" y1="63.10" x2="430.00" y2="63.10" stroke="#d2d2d2" stroke-width="1.6"/>
<line x1="492.50" y1="59.10" x2="492.50" y2="58.20" stroke="#ababab" stroke-width="1"/>
<line x1="479.95" y1="58.20" x2="504.95" y2="58.20" stroke="#dde3e8" stroke-width="1"/>
<circle cx="492.45" cy="50.12" r="1.1" fill="#111"/>
<circle cx="492.45" cy="42.30" r="1.0" fill="#ececec" stroke="#b0b0b0" stroke-width="0.7"/>
<circle cx="492.45" cy="39.70" r="1.0" fill="#ececec" stroke="#b0b0b0" stroke-width="0.7"/>
<circle cx="492.45" cy="34.49" r="1.0" fill="#ececec" stroke="#b0b0b0" stroke-width="0.7"/>
<rect x="472.00" y="59.60" width="40.90" height="3.20" fill="#fa9416" stroke="#df8214" stroke-width="1"/>
<line x1="567.50" y1="60.20" x2="567.50" y2="57.90" stroke="#ababab" stroke-width="1"/>
<line x1="555.05" y1="57.90" x2="580.05" y2="57.90" stroke="#c0c0c0" stroke-width="1"/>
<circle cx="567.55" cy="55.33" r="1.1" fill="#111"/>
<circle cx="567.55" cy="50.12" r="1.0" fill="#ececec" stroke="#b8b8b8" stroke-width="0.7"/>
<circle cx="567.55" cy="47.52" r="1.0" fill="#ececec" stroke="#b8b8b8" stroke-width="0.7"/>
<circle cx="567.55" cy="44.91" r="1.0" fill="#ececec" stroke="#b8b8b8" stroke-width="0.7"/>
<circle cx="567.55" cy="42.30" r="1.0" fill="#ececec" stroke="#b8b8b8" stroke-width="0.7"/>
<circle cx="567.55" cy="39.70" r="1.0" fill="#ececec" stroke="#b8b8b8" stroke-width="0.7"/>
<circle cx="567.55" cy="34.49" r="1.0" fill="#ececec" stroke="#b8b8b8" stroke-width="0.7"/>
<circle cx="567.55" cy="31.88" r="1.0" fill="#ececec" stroke="#b8b8b8" stroke-width="0.7"/>
<circle cx="567.55" cy="13.65" r="1.0" fill="#ececec" stroke="#b8b8b8" stroke-width="0.7"/>
<circle cx="567.55" cy="11.05" r="1.0" fill="#ececec" stroke="#b8b8b8" stroke-width="0.7"/>
<rect x="546.90" y="60.70" width="41.30" height="2.10" fill="#b3d7e9" stroke="#96b9cc" stroke-width="1"/>
<line x1="630.20" y1="63.20" x2="672.00" y2="63.20" stroke="#cfcfcf" stroke-width="1.6"/>
<circle cx="651.10" cy="50.00" r="0.9" fill="#ececec" stroke="#c0c0c0" stroke-width="0.7"/>
<line x1="409.50" y1="132.80" x2="409.50" y2="122.80" stroke="#ababab" stroke-width="1"/>
<line x1="396.75" y1="122.80" x2="421.75" y2="122.80" stroke="#c0c0c0" stroke-width="1"/>
<line x1="409.50" y1="142.70" x2="409.50" y2="147.10" stroke="#ababab" stroke-width="1"/>
<line x1="396.75" y1="147.10" x2="421.75" y2="147.10" stroke="#c0c0c0" stroke-width="1"/>
<circle cx="409.25" cy="118.20" r="1.1" fill="#111"/>
<circle cx="409.25" cy="84.30" r="1.2" fill="#ececec" stroke="#b0b0b0" stroke-width="0.7"/>
<rect x="389.00" y="133.30" width="40.50" height="8.90" fill="#b3d7e9" stroke="#96b9cc" stroke-width="1"/>
<line x1="389.00" y1="137.10" x2="429.50" y2="137.10" stroke="#86a7b9" stroke-width="1"/>
<line x1="492.50" y1="125.80" x2="492.50" y2="108.20" stroke="#ababab" stroke-width="1"/>
<line x1="479.95" y1="108.20" x2="504.95" y2="108.20" stroke="#c0c0c0" stroke-width="1"/>
<line x1="492.50" y1="142.70" x2="492.50" y2="147.10" stroke="#ababab" stroke-width="1"/>
<line x1="479.95" y1="147.10" x2="504.95" y2="147.10" stroke="#c0c0c0" stroke-width="1"/>
<rect x="472.00" y="126.30" width="40.90" height="15.90" fill="#fa9416" stroke="#df8214" stroke-width="1"/>
<line x1="472.00" y1="135.10" x2="512.90" y2="135.10" stroke="#c56e0e" stroke-width="1"/>
<line x1="567.50" y1="132.50" x2="567.50" y2="122.80" stroke="#ababab" stroke-width="1"/>
<line x1="555.05" y1="122.80" x2="580.05" y2="122.80" stroke="#c0c0c0" stroke-width="1"/>
<line x1="567.50" y1="142.30" x2="567.50" y2="147.10" stroke="#ababab" stroke-width="1"/>
<line x1="555.05" y1="147.10" x2="580.05" y2="147.10" stroke="#c0c0c0" stroke-width="1"/>
<circle cx="567.55" cy="108.40" r="1.1" fill="#111"/>
<circle cx="567.55" cy="117.80" r="1.1" fill="#111"/>
<circle cx="567.55" cy="84.20" r="1.2" fill="#ececec" stroke="#b0b0b0" stroke-width="0.7"/>
<rect x="546.90" y="133.00" width="41.30" height="8.80" fill="#b3d7e9" stroke="#96b9cc" stroke-width="1"/>
<line x1="546.90" y1="137.50" x2="588.20" y2="137.50" stroke="#86a7b9" stroke-width="1"/>
<line x1="651.50" y1="142.30" x2="651.50" y2="147.10" stroke="#ababab" stroke-width="1"/>
<line x1="638.60" y1="147.10" x2="663.60" y2="147.10" stroke="#c0c0c0" stroke-width="1"/>
<circle cx="651.10" cy="113.40" r="1.1" fill="#111"/>
<rect x="630.70" y="133.00" width="40.80" height="8.80" fill="#fa9416" stroke="#df8214" stroke-width="1"/>
<line x1="630.70" y1="137.30" x2="671.50" y2="137.30" stroke="#c56e0e" stroke-width="1"/>
<line x1="409.50" y1="214.70" x2="409.50" y2="202.60" stroke="#ababab" stroke-width="1"/>
<line x1="396.75" y1="202.60" x2="421.75" y2="202.60" stroke="#c0c0c0" stroke-width="1"/>
<circle cx="409.25" cy="196.30" r="1.1" fill="#111"/>
<circle cx="409.25" cy="197.80" r="1.1" fill="#111"/>
<circle cx="409.25" cy="199.30" r="1.1" fill="#111"/>
<circle cx="409.25" cy="200.80" r="1.1" fill="#111"/>
<circle cx="409.25" cy="174.70" r="1.2" fill="#ececec" stroke="#b0b0b0" stroke-width="0.7"/>
<circle cx="409.25" cy="162.90" r="1.2" fill="#ececec" stroke="#b0b0b0" stroke-width="0.7"/>
<rect x="389.00" y="215.20" width="40.50" height="8.30" fill="#b3d7e9" stroke="#96b9cc" stroke-width="1"/>
<line x1="389.00" y1="219.20" x2="429.50" y2="219.20" stroke="#86a7b9" stroke-width="1"/>
<line x1="492.50" y1="207.60" x2="492.50" y2="198.40" stroke="#ababab" stroke-width="1"/>
<line x1="479.95" y1="198.40" x2="504.95" y2="198.40" stroke="#c0c0c0" stroke-width="1"/>
<line x1="492.50" y1="216.60" x2="492.50" y2="224.00" stroke="#ababab" stroke-width="1"/>
<line x1="479.95" y1="224.00" x2="504.95" y2="224.00" stroke="#dedede" stroke-width="1"/>
<circle cx="492.45" cy="193.70" r="1.1" fill="#111"/>
<rect x="472.00" y="208.10" width="40.90" height="8.00" fill="#fa9416" stroke="#df8214" stroke-width="1"/>
<line x1="472.00" y1="212.10" x2="512.90" y2="212.10" stroke="#c56e0e" stroke-width="1"/>
<line x1="567.50" y1="212.10" x2="567.50" y2="195.80" stroke="#ababab" stroke-width="1"/>
<line x1="555.05" y1="195.80" x2="580.05" y2="195.80" stroke="#c0c0c0" stroke-width="1"/>
<circle cx="567.55" cy="193.40" r="1.1" fill="#111"/>
<circle cx="567.55" cy="174.70" r="1.2" fill="#ececec" stroke="#b0b0b0" stroke-width="0.7"/>
<circle cx="567.55" cy="162.90" r="1.2" fill="#ececec" stroke="#b0b0b0" stroke-width="0.7"/>
<rect x="546.90" y="212.60" width="41.30" height="10.50" fill="#b3d7e9" stroke="#96b9cc" stroke-width="1"/>
<line x1="546.90" y1="219.20" x2="588.20" y2="219.20" stroke="#86a7b9" stroke-width="1"/>
<line x1="651.50" y1="207.60" x2="651.50" y2="205.50" stroke="#ababab" stroke-width="1"/>
<line x1="638.60" y1="205.50" x2="663.60" y2="205.50" stroke="#c0c0c0" stroke-width="1"/>
<line x1="651.50" y1="216.60" x2="651.50" y2="219.20" stroke="#ababab" stroke-width="1"/>
<line x1="638.60" y1="219.20" x2="663.60" y2="219.20" stroke="#c0c0c0" stroke-width="1"/>
<rect x="630.70" y="208.10" width="40.80" height="8.00" fill="#fa9416" stroke="#df8214" stroke-width="1"/>
<line x1="630.70" y1="214.50" x2="671.50" y2="214.50" stroke="#c56e0e" stroke-width="1"/>
<line x1="409.50" y1="292.40" x2="409.50" y2="286.30" stroke="#ababab" stroke-width="1"/>
<line x1="396.75" y1="286.30" x2="421.75" y2="286.30" stroke="#c0c0c0" stroke-width="1"/>
<line x1="409.50" y1="297.60" x2="409.50" y2="300.30" stroke="#ababab" stroke-width="1"/>
<line x1="396.75" y1="300.30" x2="421.75" y2="300.30" stroke="#c0c0c0" stroke-width="1"/>
<circle cx="409.25" cy="284.00" r="1.1" fill="#111"/>
<circle cx="409.25" cy="265.00" r="1.1" fill="#ececec" stroke="#c8c8c8" stroke-width="0.7"/>
<rect x="389.00" y="292.90" width="40.50" height="4.20" fill="#b3d7e9" stroke="#96b9cc" stroke-width="1"/>
<line x1="389.00" y1="295.00" x2="429.50" y2="295.00" stroke="#86a7b9" stroke-width="1"/>
<line x1="492.50" y1="259.50" x2="492.50" y2="237.60" stroke="#ababab" stroke-width="1"/>
<line x1="479.95" y1="237.60" x2="504.95" y2="237.60" stroke="#c0c0c0" stroke-width="1"/>
<line x1="492.50" y1="286.60" x2="492.50" y2="294.70" stroke="#ababab" stroke-width="1"/>
<line x1="479.95" y1="294.70" x2="504.95" y2="294.70" stroke="#c0c0c0" stroke-width="1"/>
<rect x="472.00" y="260.00" width="40.90" height="26.10" fill="#fa9416" stroke="#df8214" stroke-width="1"/>
<line x1="472.00" y1="271.30" x2="512.90" y2="271.30" stroke="#c56e0e" stroke-width="1"/>
<line x1="567.50" y1="292.40" x2="567.50" y2="286.60" stroke="#ababab" stroke-width="1"/>
<line x1="555.05" y1="286.60" x2="580.05" y2="286.60" stroke="#c0c0c0" stroke-width="1"/>
<line x1="567.50" y1="297.60" x2="567.50" y2="300.30" stroke="#ababab" stroke-width="1"/>
<line x1="555.05" y1="300.30" x2="580.05" y2="300.30" stroke="#c0c0c0" stroke-width="1"/>
<circle cx="567.55" cy="284.00" r="1.1" fill="#111"/>
<circle cx="567.55" cy="278.40" r="1.1" fill="#111"/>
<circle cx="567.55" cy="265.00" r="1.1" fill="#ececec" stroke="#c8c8c8" stroke-width="0.7"/>
<rect x="546.90" y="292.90" width="41.30" height="4.20" fill="#b3d7e9" stroke="#96b9cc" stroke-width="1"/>
<line x1="546.90" y1="295.00" x2="588.20" y2="295.00" stroke="#86a7b9" stroke-width="1"/>
<line x1="651.50" y1="256.80" x2="651.50" y2="245.80" stroke="#ababab" stroke-width="1"/>
<line x1="638.60" y1="245.80" x2="663.60" y2="245.80" stroke="#c0c0c0" stroke-width="1"/>
<line x1="651.50" y1="286.60" x2="651.50" y2="291.80" stroke="#ababab" stroke-width="1"/>
<line x1="638.60" y1="291.80" x2="663.60" y2="291.80" stroke="#c0c0c0" stroke-width="1"/>
<rect x="630.70" y="257.30" width="40.80" height="28.80" fill="#fa9416" stroke="#df8214" stroke-width="1"/>
<line x1="630.70" y1="274.50" x2="671.50" y2="274.50" stroke="#c56e0e" stroke-width="1"/>
<g clip-path="url(#cB1)">
<text x="432.70" y="65.60" font-size="7.7" text-anchor="start" >6</text>
<text x="515.50" y="65.50" font-size="7.7" text-anchor="start" >6</text>
<text x="433.00" y="140.50" font-size="7.7" text-anchor="start" >2</text>
<text x="515.30" y="137.50" font-size="7.7" text-anchor="start" >2.5</text>
<text x="432.60" y="222.50" font-size="7.7" text-anchor="start" >2</text>
<text x="515.80" y="214.50" font-size="7.7" text-anchor="start" >5</text>
<text x="432.60" y="297.80" font-size="7.7" text-anchor="start" >2</text>
<text x="516.30" y="273.80" font-size="7.7" text-anchor="start" >10.5</text>
</g><g clip-path="url(#cB2)">
<text x="590.60" y="65.60" font-size="7.7" text-anchor="start" >6</text>
<text x="674.90" y="65.70" font-size="7.7" text-anchor="start" >6</text>
<text x="590.40" y="140.50" font-size="7.7" text-anchor="start" >2</text>
<text x="674.50" y="140.00" font-size="7.7" text-anchor="start" >2</text>
<text x="590.50" y="222.50" font-size="7.7" text-anchor="start" >2</text>
<text x="674.70" y="217.00" font-size="7.7" text-anchor="start" >4</text>
<text x="591.00" y="297.80" font-size="7.7" text-anchor="start" >2</text>
<text x="674.70" y="277.00" font-size="7.7" text-anchor="start" >9.5</text>
</g>
<text x="434.20" y="23.70" font-size="7.7" text-anchor="start" >p=0.241</text>
<text x="591.70" y="23.70" font-size="7.7" text-anchor="start" >p=0.690</text>
<text x="434.90" y="95.70" font-size="7.7" text-anchor="start" >p=0.028</text>
<text x="591.00" y="100.40" font-size="7.7" text-anchor="start" >p=0.579</text>
<text x="431.20" y="180.80" font-size="7.7" text-anchor="start" >p=0.001</text>
<text x="590.00" y="180.80" font-size="7.7" text-anchor="start" >p=0.077</text>
<text x="431.00" y="254.80" font-size="7.7" text-anchor="start" >p&lt;0.001</text>
<text x="590.00" y="258.00" font-size="7.7" text-anchor="start" >p=0.051</text>
<rect x="395" y="4" width="39" height="42" fill="#fff"/>
<text x="406.00" y="29.90" font-size="19.3" text-anchor="start" font-family="Liberation Serif, serif" style="stroke-width:0.1px">B</text>
<text x="450.80" y="309.00" font-size="7.7" text-anchor="middle" >During PICU stay</text>
<text x="609.00" y="309.00" font-size="7.7" text-anchor="middle" >At admission</text>
<rect x="480.9" y="312.0" width="79.4" height="29.2" fill="#fff" stroke="#c8c8c8" stroke-width="1"/>
<text x="495.70" y="319.80" font-size="7.7" text-anchor="start" >Hypomagnesemia</text>
<rect x="483.8" y="322.8" width="7.6" height="7.4" rx="1" fill="#fa9416"/>
<text x="495.70" y="329.30" font-size="7.7" text-anchor="start" >Yes</text>
<rect x="483.8" y="332.0" width="7.6" height="7.4" rx="1" fill="#b3d7e9"/>
<text x="495.70" y="338.50" font-size="7.7" text-anchor="start" >No</text>
</svg></body></html>
